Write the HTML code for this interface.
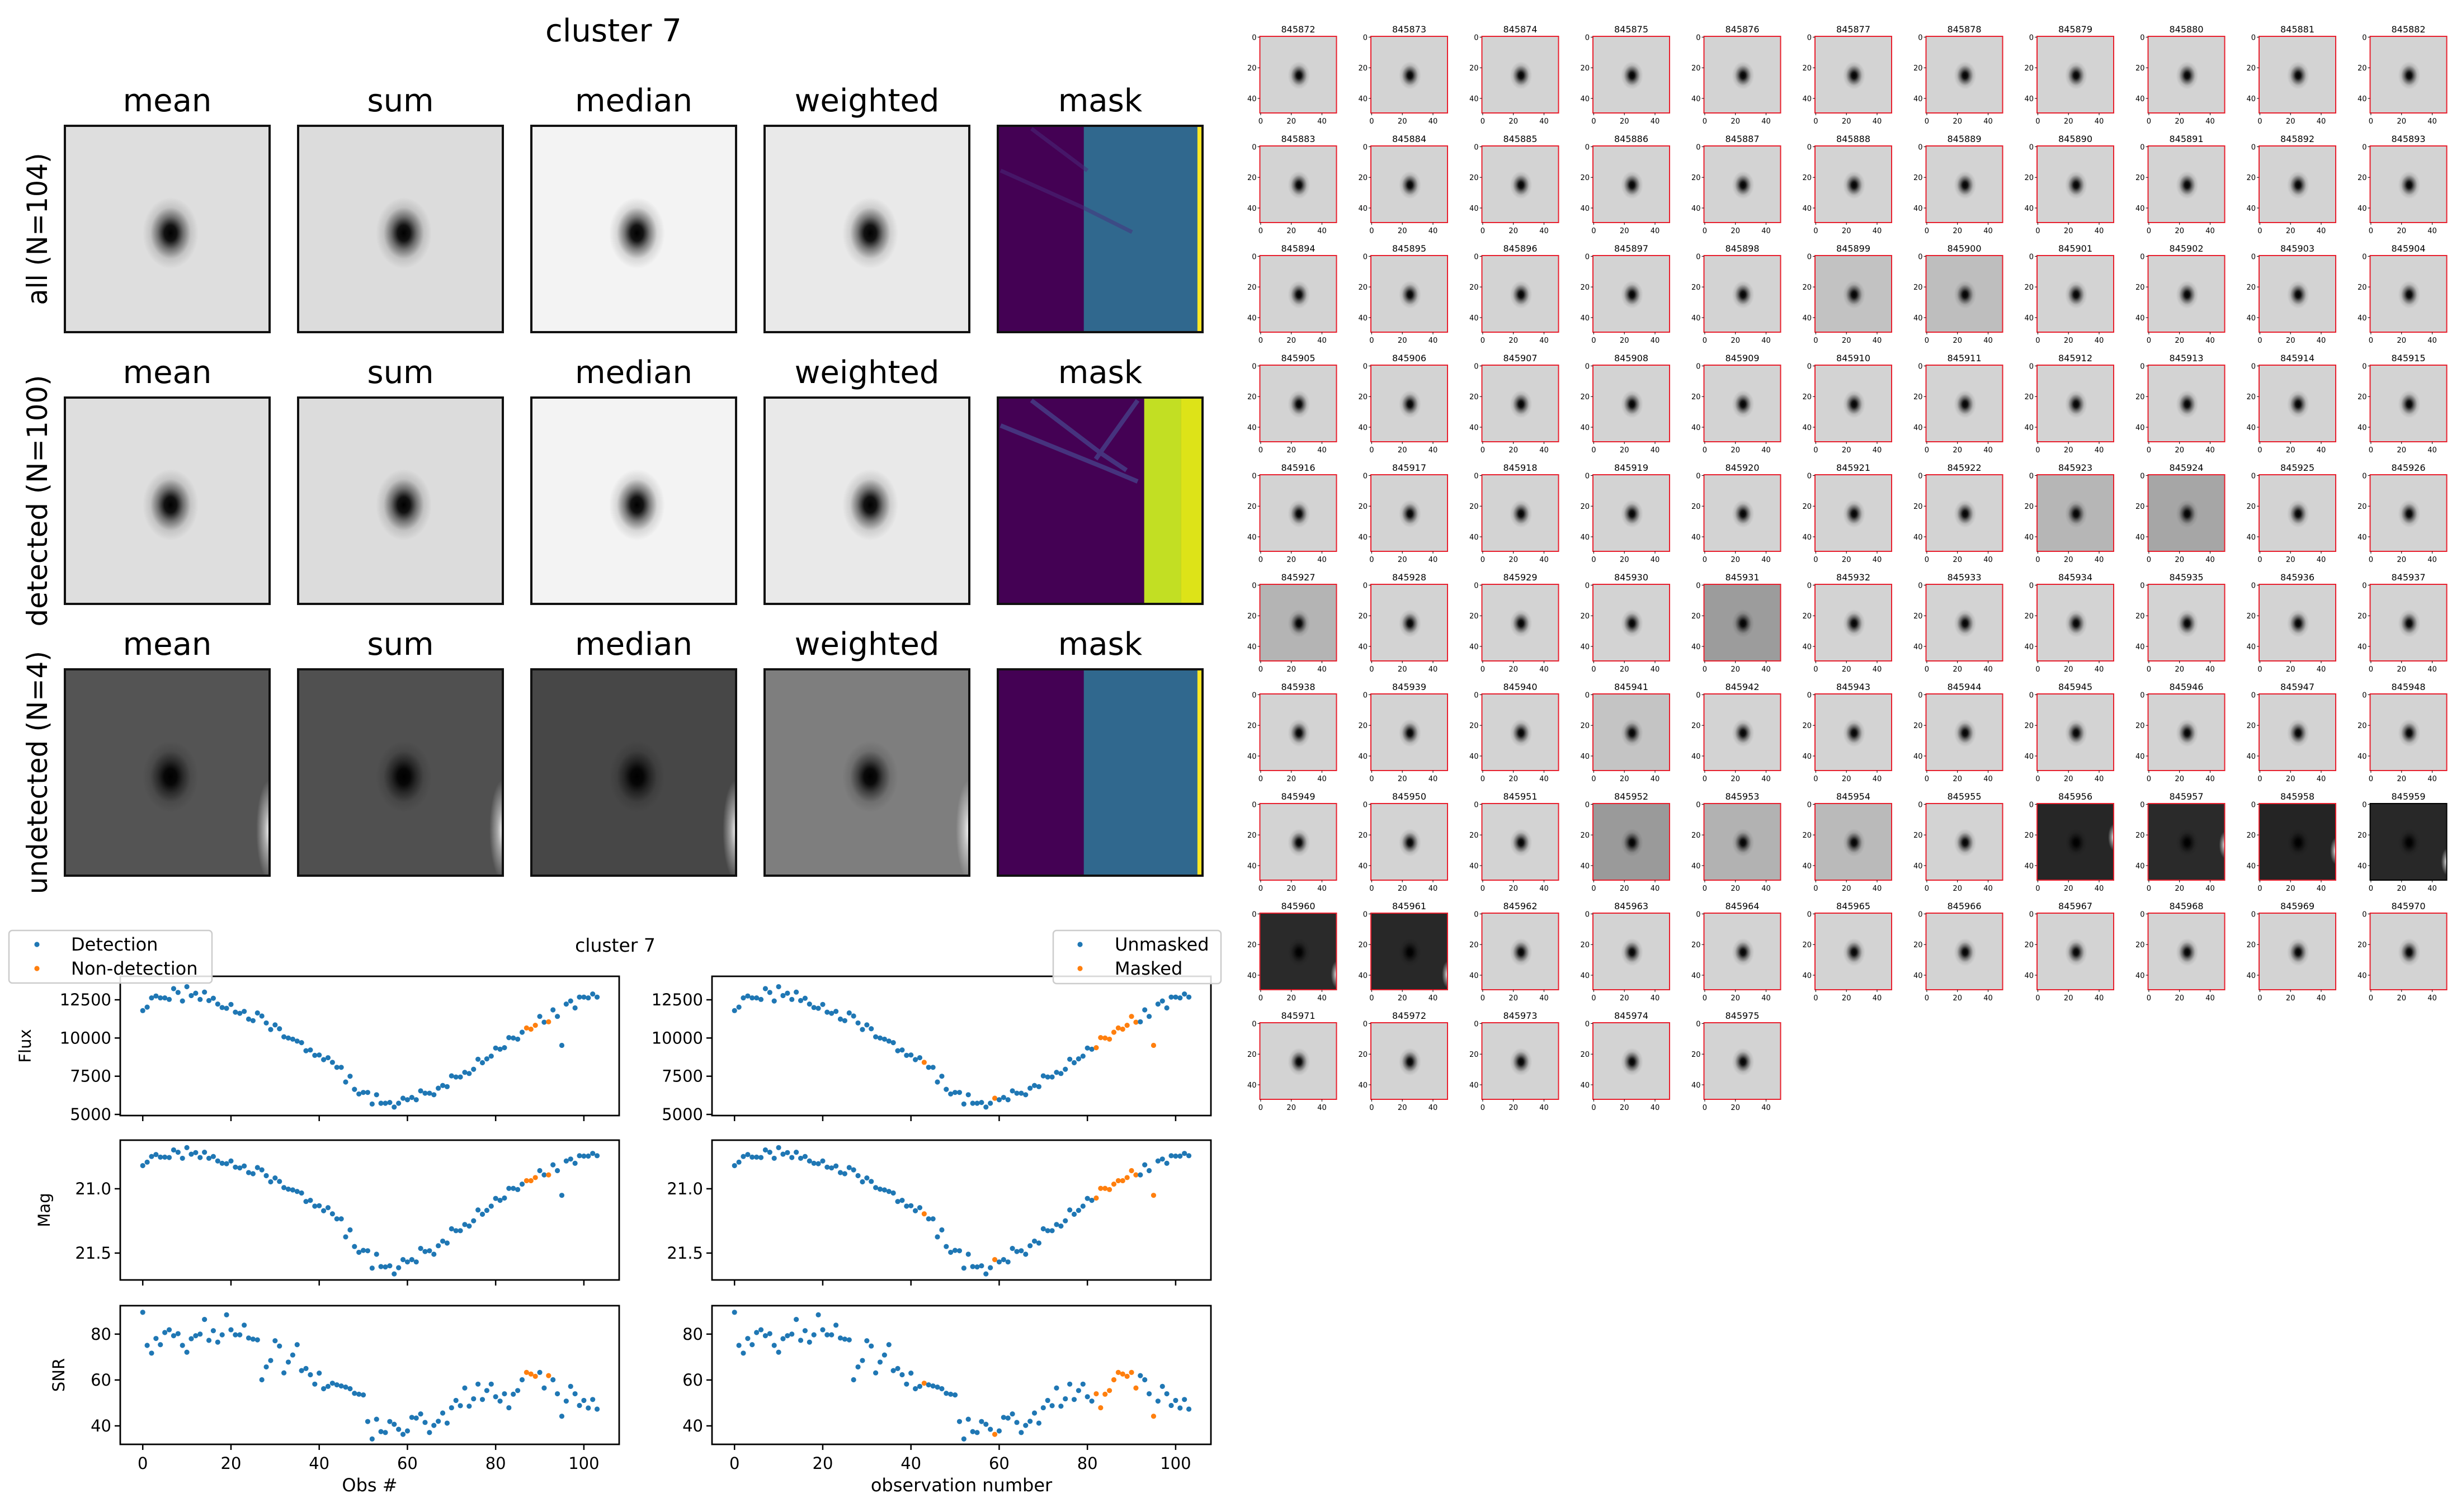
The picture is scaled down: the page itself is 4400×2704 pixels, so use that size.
<!DOCTYPE html>
<html><head><meta charset="utf-8"><title>cluster 7</title>
<style>
html,body{margin:0;padding:0;background:#fff;}
svg{display:block;font-family:"DejaVu Sans","Liberation Sans",sans-serif;}
</style></head>
<body>
<svg id="fig" xmlns="http://www.w3.org/2000/svg" width="4400" height="2704" viewBox="0 0 4400 2704">
<defs>
<radialGradient id="blob"><stop offset="0" stop-color="#000" stop-opacity="1"/><stop offset="0.22" stop-color="#000" stop-opacity="0.92"/><stop offset="0.45" stop-color="#000" stop-opacity="0.5"/><stop offset="0.72" stop-color="#000" stop-opacity="0.12"/><stop offset="1" stop-color="#000" stop-opacity="0"/></radialGradient>
<radialGradient id="glow"><stop offset="0" stop-color="#fff" stop-opacity="0.95"/><stop offset="0.4" stop-color="#fff" stop-opacity="0.5"/><stop offset="1" stop-color="#fff" stop-opacity="0"/></radialGradient>
</defs>
<text x="1097" y="74" font-size="56" text-anchor="middle">cluster 7</text>
<g id="stacks"></g>
<text x="1100" y="1702" font-size="33" text-anchor="middle">cluster 7</text>
<g id="plots"></g>
<g id="thumbs"></g>
</svg>
<script>
// ---- light curve data ----
const flux = [11793,12020,12626,12750,12626,12626,12525,13232,12980,12424,13358,12777,12929,12525,13005,12450,12600,12222,11995,11944,12197,11692,11616,11742,11237,11136,11641,11440,10985,10556,10859,10606,10076,10000,9924,9798,9697,9167,9217,8864,8889,8586,8712,8409,8081,8081,7121,7500,6641,6338,6439,6439,5682,6288,5732,5732,5783,5480,5732,6060,5960,6111,5960,6541,6389,6389,6288,6717,6894,6818,7525,7450,7450,7753,7677,7955,8611,8384,8636,8813,9343,9268,9369,10025,10000,9924,10379,10657,10581,10833,11414,11035,11061,11843,11414,9520,12222,12424,11970,12677,12677,12626,12879,12677];
const mag = [20.820,20.793,20.749,20.734,20.754,20.754,20.757,20.698,20.716,20.763,20.680,20.731,20.719,20.757,20.716,20.763,20.749,20.784,20.802,20.805,20.784,20.832,20.838,20.823,20.874,20.883,20.835,20.853,20.898,20.946,20.916,20.943,20.991,21.003,21.009,21.021,21.033,21.099,21.090,21.135,21.132,21.171,21.147,21.195,21.234,21.234,21.374,21.320,21.449,21.494,21.479,21.482,21.617,21.509,21.605,21.608,21.599,21.662,21.614,21.551,21.569,21.551,21.569,21.464,21.488,21.482,21.509,21.443,21.407,21.422,21.311,21.326,21.326,21.278,21.290,21.249,21.165,21.198,21.168,21.135,21.075,21.090,21.072,20.997,20.997,21.006,20.964,20.937,20.937,20.913,20.859,20.892,20.892,20.814,20.859,21.051,20.784,20.769,20.802,20.743,20.746,20.746,20.725,20.743];
const snr = [89.5,75.1,71.7,78.1,75.4,80.7,81.9,79.3,80.2,75.1,72.1,78.0,79.3,80.0,86.4,77.3,81.5,76.5,79.7,88.4,81.9,79.7,79.7,83.9,78.3,77.8,77.5,60.1,65.7,68.5,77.1,74.8,63.1,67.8,70.9,75.4,64.1,65.0,62.3,58.2,63.0,56.2,57.2,58.6,57.9,57.4,56.9,56.2,54.2,53.8,53.5,41.9,34.3,42.9,37.5,37.1,41.9,40.7,38.5,36.3,37.8,43.7,43.4,45.2,41.5,37.1,40.2,42.0,45.6,41.2,47.9,51.1,48.8,56.5,48.6,51.8,58.2,51.5,55.4,58.2,52.7,50.8,54.0,47.9,53.8,55.4,60.1,63.3,62.6,61.6,63.3,56.5,61.9,60.1,54.0,44.2,50.8,57.2,54.0,48.9,51.1,47.8,51.5,47.3];
const nonDetection = [87,88,89,92];
const maskedObs = [43,59,82,83,84,85,86,87,88,89,90,91,95];
const xTicks = [0,20,40,60,80,100];
const fluxTicks = [5000,7500,10000,12500];
const magTicks = [21.0,21.5];
const snrTicks = [40,60,80];
const fluxTickLabels = ["5000","7500","10000","12500"];
const magTickLabels = ["21.0","21.5"];
const snrTickLabels = ["40","60","80"];

const NS = "http://www.w3.org/2000/svg";
function mk(tag, attrs, parent){const e=document.createElementNS(NS,tag);for(const k in attrs)e.setAttribute(k,attrs[k]);if(parent)parent.appendChild(e);return e;}

// ---- stacked images grid ----
const stacks = document.getElementById('stacks');
const colNames = ["mean","sum","median","weighted","mask"];
const rowNames = ["all (N=104)","detected (N=100)","undetected (N=4)"];
const rowLens = [272,450,435];
const bgs = [["#dedede","#dcdcdc","#f3f3f3","#e9e9e9"],["#dedede","#dcdcdc","#f3f3f3","#e9e9e9"],["#545454","#505050","#474747","#7e7e7e"]];
for(let r=0;r<3;r++){
  const y0 = 225 + r*486, h = 369;
  const rl = mk('text',{x:0,y:0,'font-size':50,'text-anchor':'middle',textLength:rowLens[r],lengthAdjust:'spacingAndGlyphs',transform:`translate(84,${y0+h/2}) rotate(-90)`},stacks);
  
  
  rl.textContent = rowNames[r];
  for(let c=0;c<5;c++){
    const x0 = 116 + c*417, w = 366;
    const t = mk('text',{x:x0+w/2,y:y0-26,'font-size':56,'text-anchor':'middle'},stacks);
    
    
    t.textContent = colNames[c];
    const g = mk('g',{},stacks);
    
    
    if(c<4){
      mk('rect',{x:x0,y:y0,width:w,height:h,fill:bgs[r][c]},g);
      mk('ellipse',{cx:x0+0.516*w,cy:y0+0.52*h,rx:50,ry:64,fill:'url(#blob)'},g);
      if(r===2){ mk('ellipse',{cx:x0+w,cy:y0+0.78*h,rx:24,ry:90,fill:'url(#glow)'},g); }
    } else {
      if(r===1){
        mk('rect',{x:x0,y:y0,width:w,height:h,fill:'#440154'},g);
        mk('rect',{x:x0+0.715*w,y:y0,width:0.18*w,height:h,fill:'#c2df23'},g);
        mk('rect',{x:x0+0.895*w,y:y0,width:0.105*w,height:h,fill:'#dde318'},g);
        mk('path',{d:`M${x0+60} ${y0+5} L${x0+185} ${y0+100} L${x0+230} ${y0+130} M${x0+5} ${y0+50} L${x0+190} ${y0+125} L${x0+250} ${y0+150} M${x0+250} ${y0+5} L${x0+175} ${y0+110}`,stroke:'#46337e',"stroke-width":8,fill:'none'},g);
      } else {
        mk('rect',{x:x0,y:y0,width:w,height:h,fill:'#440154'},g);
        mk('rect',{x:x0+0.42*w,y:y0,width:0.58*w,height:h,fill:'#30688e'},g);
        mk('rect',{x:x0+0.975*w,y:y0,width:0.02*w,height:h,fill:'#fde725'},g);
        if(r===0){ mk('path',{d:`M${x0+60} ${y0+5} L${x0+160} ${y0+80} M${x0+5} ${y0+80} L${x0+150} ${y0+145} L${x0+240} ${y0+190}`,stroke:'#472d7b',"stroke-width":7,fill:'none','stroke-opacity':0.5},g); }
      }
    }
    mk('rect',{x:x0,y:y0,width:w,height:h,fill:'none',stroke:'#111','stroke-width':4},g);
  }
}

// ---- light curve panels ----
const plots = document.getElementById('plots');
const xDom=[-5.1,108];
function panel(px0,px1,py0,py1,dom,vals,orange,ticks,tlabels,ylab,ylabX,bottom,xlab,name){
  const g = mk('g',{},plots);
  
  
  const sx = v => px0 + (v-xDom[0])/(xDom[1]-xDom[0])*(px1-px0);
  const sy = v => py0 + (v-dom[0])/(dom[1]-dom[0])*(py1-py0);
  ticks.forEach((tv,i)=>{
    const y=sy(tv);
    mk('line',{x1:px0-10,x2:px0,y1:y,y2:y,stroke:'#000','stroke-width':2.5},g);
    const tl = mk('text',{x:px0-16,y:y+10,'font-size':29,'text-anchor':'end'},g);
    
    
    tl.textContent = tlabels[i];
  });
  xTicks.forEach(tv=>{
    const x=sx(tv);
    mk('line',{x1:x,x2:x,y1:py1,y2:py1+10,stroke:'#000','stroke-width':2.5},g);
    if(bottom){
      const tl = mk('text',{x:x,y:py1+44,'font-size':29,'text-anchor':'middle'},g);
      
      
      tl.textContent = String(tv);
    }
  });
  if(ylab){
    const yl = mk('text',{x:0,y:0,'font-size':29,'text-anchor':'middle',transform:`translate(${ylabX},${(py0+py1)/2}) rotate(-90)`},g);
    
    
    yl.textContent = ylab;
  }
  if(bottom && xlab){
    const xl = mk('text',{x:(px0+px1)/2,y:py1+84,'font-size':32,'text-anchor':'middle'},g);
    
    
    xl.textContent = xlab;
  }
  vals.forEach((v,i)=>{
    const c = mk('circle',{cx:sx(i),cy:sy(v),r:4.6,fill:orange.includes(i)?'#ff7f0e':'#1f77b4'},g);
    
    
  });
  mk('rect',{x:px0,y:py0,width:px1-px0,height:py1-py0,fill:'none',stroke:'#000','stroke-width':2.8},g);
}
const rowsY=[[1746,1995],[2039,2289],[2335,2583]];
const cols=[[215,1107,nonDetection,"Obs #",true],[1273,2165,maskedObs,"observation number",false]];
cols.forEach((c,ci)=>{
  panel(c[0],c[1],rowsY[0][0],rowsY[0][1],[14037,4927],flux,c[2],fluxTicks,fluxTickLabels,c[4]?"Flux":null,c[0]-160,false,null,'flux-panel-'+ci);
  panel(c[0],c[1],rowsY[1][0],rowsY[1][1],[20.622,21.709],mag,c[2],magTicks,magTickLabels,c[4]?"Mag":null,c[0]-126,false,null,'mag-panel-'+ci);
  panel(c[0],c[1],rowsY[2][0],rowsY[2][1],[92.4,31.95],snr,c[2],snrTicks,snrTickLabels,c[4]?"SNR":null,c[0]-100,true,c[3],'snr-panel-'+ci);
});
function legend(x0,y0,w,h,labels,tx,dx){
  const g = mk('g',{},plots);
  
  
  mk('rect',{x:x0,y:y0,width:w,height:h,rx:6,fill:'#fff','fill-opacity':0.85,stroke:'#cccccc','stroke-width':2.5},g);
  labels.forEach((l,i)=>{
    const yy=y0+25+i*43;
    mk('circle',{cx:dx,cy:yy,r:4.6,fill:i===0?'#1f77b4':'#ff7f0e'},g);
    const t=mk('text',{x:tx,y:yy+11,'font-size':32},g);
    
    
    t.textContent=l;
  });
}
legend(16,1664,363,94,["Detection","Non-detection"],127,66);
legend(1883,1664,300,95,["Unmasked","Masked"],1993,1931);

// ---- cutout thumbnails ----
const thumbs = document.getElementById('thumbs');
const darkBg = {899:'#c2c2c2',900:'#bebebe',923:'#b6b6b6',924:'#a6a6a6',927:'#b4b4b4',931:'#9c9c9c',941:'#c4c4c4',952:'#9a9a9a',953:'#b2b2b2',954:'#bababa',956:'#262626',957:'#2a2a2a',958:'#242424',959:'#282828',960:'#2a2a2a',961:'#282828'};
const glowY = {956:22,957:27,958:31,959:38,960:40,961:40};
for(let k=0;k<104;k++){
  const id = 845872+k, sfx = id-845000;
  const col=k%11,row=Math.floor(k/11);
  const x0=2252.5+col*198.5, y0=65+row*196, w=137, h=137;
  const g=mk('g',{},thumbs);
  
  
  const bg = darkBg[sfx]||'#d3d3d3';
  mk('rect',{x:x0,y:y0,width:w,height:h,fill:bg},g);
  mk('ellipse',{cx:x0+0.51*w,cy:y0+0.51*h,rx:20,ry:25,fill:'url(#blob)'},g);
  if(glowY[sfx]!==undefined){ mk('ellipse',{cx:x0+w,cy:y0+glowY[sfx]*2.74,rx:10,ry:24,fill:'url(#glow)'},g); }
  mk('rect',{x:x0,y:y0,width:w,height:h,fill:'none',stroke:sfx===959?'#000':'#e8202e','stroke-width':2},g);
  const t=mk('text',{x:x0+w/2,y:y0-7,'font-size':16,'text-anchor':'middle'},g);
  
  
  t.textContent=String(id);
  [0,20,40].forEach(v=>{
    const yy=y0+1.4+v*2.74, xx=x0+1.4+v*2.74;
    mk('line',{x1:x0-4,x2:x0,y1:yy,y2:yy,stroke:'#000','stroke-width':1},g);
    mk('line',{x1:xx,x2:xx,y1:y0+h,y2:y0+h+4,stroke:'#000','stroke-width':1},g);
    const a=mk('text',{x:x0-6,y:yy+5,'font-size':13,'text-anchor':'end'},g);
    
    
    a.textContent=String(v);
    const b=mk('text',{x:xx,y:y0+h+19,'font-size':13,'text-anchor':'middle'},g);
    
    
    b.textContent=String(v);
  });
}
</script>
</body></html>
